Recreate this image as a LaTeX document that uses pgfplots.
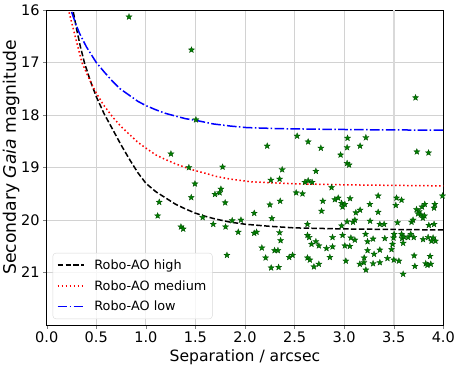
\documentclass[border=0pt]{standalone}
\usepackage{pgfplots}
\pgfplotsset{compat=1.18}
\usepackage{fontspec}
\setmainfont{DejaVu Sans}

% filled five-pointed star, like matplotlib's '*'
\pgfdeclareplotmark{fstar}{%
  \pgfpathmoveto{\pgfpointpolar{90}{\pgfplotmarksize}}%
  \pgfpathlineto{\pgfpointpolar{126}{0.42\pgfplotmarksize}}%
  \pgfpathlineto{\pgfpointpolar{162}{\pgfplotmarksize}}%
  \pgfpathlineto{\pgfpointpolar{198}{0.42\pgfplotmarksize}}%
  \pgfpathlineto{\pgfpointpolar{234}{\pgfplotmarksize}}%
  \pgfpathlineto{\pgfpointpolar{270}{0.42\pgfplotmarksize}}%
  \pgfpathlineto{\pgfpointpolar{306}{\pgfplotmarksize}}%
  \pgfpathlineto{\pgfpointpolar{342}{0.42\pgfplotmarksize}}%
  \pgfpathlineto{\pgfpointpolar{18}{\pgfplotmarksize}}%
  \pgfpathlineto{\pgfpointpolar{54}{0.42\pgfplotmarksize}}%
  \pgfpathclose
  \pgfusepathqfillstroke
}

\definecolor{mplgreen}{HTML}{008000}

\pgfplotstableread{
x y
0.22 15.60
0.265 16.00
0.30 16.35
0.34 16.70
0.38 17.00
0.44 17.35
0.50 17.65
0.58 17.98
0.67 18.29
0.75 18.57
0.84 18.86
0.92 19.10
1.00 19.30
1.10 19.46
1.20 19.58
1.30 19.70
1.40 19.79
1.50 19.87
1.60 19.93
1.70 19.98
1.85 20.04
2.00 20.08
2.25 20.12
2.50 20.15
3.00 20.17
3.50 20.18
4.00 20.19
}\high

\pgfplotstableread{
x y
0.17 15.60
0.22 16.00
0.28 16.45
0.355 17.00
0.43 17.32
0.50 17.58
0.57 17.80
0.67 18.05
0.75 18.22
0.84 18.38
0.92 18.52
1.00 18.63
1.10 18.76
1.20 18.85
1.30 18.93
1.40 19.00
1.50 19.06
1.60 19.11
1.71 19.17
1.85 19.22
2.05 19.27
2.25 19.29
2.50 19.31
3.00 19.33
3.50 19.34
4.00 19.35
}\medium

\pgfplotstableread{
x y
0.20 15.75
0.245 16.00
0.29 16.25
0.33 16.44
0.40 16.70
0.50 17.00
0.58 17.18
0.665 17.36
0.74 17.50
0.83 17.62
0.92 17.74
1.00 17.82
1.10 17.90
1.20 17.97
1.30 18.02
1.40 18.07
1.50 18.10
1.68 18.17
1.85 18.21
2.02 18.24
2.35 18.26
2.72 18.27
3.20 18.28
4.00 18.29
}\low

\pgfplotstableread{
x y
1.253 18.74
1.434 19.00
1.774 18.99
2.224 18.59
2.526 18.40
2.375 19.04
2.261 19.24
2.349 19.22
1.495 19.31
1.757 19.41
1.697 19.51
1.744 19.48
1.458 19.57
1.135 19.66
1.800 19.67
2.251 19.71
2.355 19.64
2.516 19.48
2.093 19.87
1.119 19.92
1.573 19.95
1.354 20.13
1.377 20.17
1.680 20.08
1.804 20.13
1.871 20.01
1.959 20.00
1.932 20.23
1.818 20.67
2.271 19.97
2.349 20.24
2.359 20.39
2.093 20.25
2.117 20.23
2.170 20.53
2.208 20.72
2.298 20.58
2.332 20.58
2.264 20.91
2.339 20.90
2.446 20.71
2.480 20.67
2.637 18.51
2.765 18.63
3.034 18.44
3.219 18.43
3.030 18.62
3.161 18.59
2.964 18.76
3.030 18.92
3.050 18.95
2.715 19.07
3.733 18.70
3.851 18.72
2.604 19.28
2.637 19.25
2.677 19.28
2.873 19.38
2.580 19.50
2.785 19.64
2.772 19.83
2.906 19.61
2.940 19.58
2.974 19.68
3.007 19.70
2.984 19.75
3.060 19.59
3.118 19.86
3.161 19.81
3.259 19.70
3.343 19.54
3.343 19.85
3.528 19.58
3.521 19.72
3.579 19.62
3.730 19.80
3.756 19.84
3.786 19.75
3.813 19.70
3.914 19.70
3.992 19.54
3.773 19.90
3.794 19.96
3.907 19.77
3.745 19.88
3.810 19.92
2.630 20.08
3.030 20.03
3.090 20.04
3.108 20.00
3.262 20.02
3.360 20.08
3.403 20.08
3.538 20.05
3.680 20.04
3.695 20.00
3.854 20.10
3.907 20.08
2.974 20.11
2.630 20.29
2.647 20.33
2.671 20.46
2.715 20.41
2.745 20.49
2.822 20.54
2.883 20.33
2.883 20.51
2.856 20.71
2.630 20.72
2.654 20.76
2.695 20.89
2.745 20.84
2.984 20.29
3.007 20.49
3.057 20.50
3.068 20.34
3.108 20.38
3.216 20.27
3.292 20.36
3.236 20.41
3.410 20.35
3.236 20.58
3.360 20.57
3.302 20.65
3.017 20.78
3.158 20.84
3.199 20.81
3.202 20.72
3.292 20.83
3.360 20.81
3.219 20.95
3.437 20.73
3.498 20.34
3.488 20.46
3.478 20.56
3.501 20.76
3.552 20.78
3.504 20.27
3.579 20.27
3.585 20.35
3.595 20.44
3.602 20.32
3.645 20.33
3.672 20.27
3.702 20.33
3.796 20.37
3.847 20.33
3.897 20.34
3.921 20.40
3.881 20.40
3.595 21.03
3.706 20.68
3.713 20.88
3.823 20.83
3.874 20.84
3.867 20.69
3.840 20.86
3.720 17.67
0.830 16.13
1.460 16.76
1.505 18.09
}\pairs

\begin{document}
\begin{tikzpicture}
\useasboundingbox (-46.7pt,-43pt) rectangle (413.3pt,325pt);
\begin{axis}[
    scale only axis,
    width=396.6pt, height=315pt,
    xmin=0, xmax=4,
    ymin=16, ymax=22,
    y dir=reverse,
    xtick={0,0.5,...,4},
    ytick={16,17,...,21},
    xticklabel style={/pgf/number format/fixed, /pgf/number format/fixed zerofill, /pgf/number format/precision=1},
    /pgf/number format/assume math mode=true,
    tick label style={font=\fontsize{14.5}{16}\selectfont},
    xlabel style={font=\fontsize{15.6}{18}\selectfont},
    ylabel style={font=\fontsize{17.2}{20}\selectfont, yshift=-5pt, xshift=10pt},
    xlabel={Separation / arcsec},
    ylabel={Secondary \textit{Gaia} magnitude},
    tick align=outside,
    tick pos=left,
    major tick length=3.5pt,
    axis line style={line width=0.8pt},
    grid=major,
    grid style={gray!35, line width=0.8pt},
    legend cell align=left,
    legend style={at={(0,0)}, anchor=south west, xshift=6pt, yshift=6pt,
        font=\fontsize{12.8}{15}\selectfont, draw=gray!30, rounded corners=3pt,
        fill=white, fill opacity=0.8, text opacity=1, row sep=5.5pt,
        inner xsep=4pt, inner ysep=4.5pt,
        /tikz/every odd column/.append style={column sep=8pt}},
    legend image code/.code={\draw[#1] (0pt,0pt) -- (26pt,0pt);},
]
\addplot[gray!30, line width=2pt, forget plot] coordinates {(3.5,16) (3.5,22)};
\addplot[black, line width=1.5pt, dash pattern=on 5.5pt off 2.4pt] table {\high};
\addlegendentry{Robo-AO high}
\addplot[red, line width=1.5pt, dash pattern=on 1.5pt off 2.5pt] table {\medium};
\addlegendentry{Robo-AO medium}
\addplot[blue, line width=1.5pt, dash pattern=on 9.6pt off 2.4pt on 1.5pt off 2.4pt] table {\low};
\addlegendentry{Robo-AO low}
\addplot[only marks, mark=fstar, mark size=3.2pt,
    mark options={fill=mplgreen, draw=green!30!black, line width=0.3pt},
    forget plot] table {\pairs};
\end{axis}
\end{tikzpicture}
\end{document}
